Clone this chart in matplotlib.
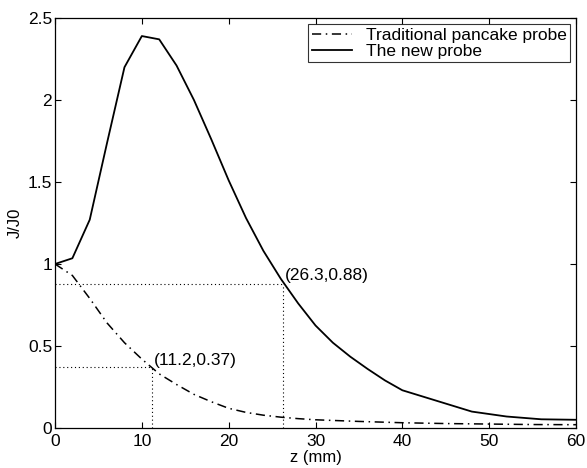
import numpy as np
import matplotlib.pyplot as plt

plt.rcParams['font.family'] = ['Liberation Sans', 'DejaVu Sans']

# depth z (mm) and normalised eddy current density J/J0
z_trad = [0, 2, 4, 6, 8, 10, 12, 14, 16, 18, 20, 22, 24, 26, 28, 30,
          35, 40, 45, 50, 55, 60]
j_trad = [1.0, 0.93, 0.79, 0.64, 0.52, 0.42, 0.33, 0.265, 0.205, 0.16, 0.12,
          0.095, 0.078, 0.066, 0.057, 0.05, 0.04, 0.032, 0.027, 0.024, 0.021, 0.02]

z_new = [0, 2, 4, 6, 8, 10, 12, 14, 16, 18, 20, 22, 24, 26, 28, 30, 32, 34,
         36, 38, 40, 44, 48, 52, 56, 60]
j_new = [1.0, 1.035, 1.27, 1.74, 2.20, 2.39, 2.37, 2.21, 2.0, 1.76, 1.51, 1.28,
         1.08, 0.91, 0.76, 0.625, 0.52, 0.435, 0.36, 0.29, 0.23, 0.165, 0.10,
         0.07, 0.053, 0.05]

marks = [(26.3, 0.88), (11.2, 0.37)]
mark_labels = ['(26.3,0.88)', '(11.2,0.37)']
label_pos = [(26.5, 0.93), (11.4, 0.41)]

fig = plt.figure(figsize=(5.87, 4.68), dpi=100)
ax = fig.add_axes([0.0937, 0.0855, 0.8876, 0.876])

ax.plot(z_trad, j_trad, color='black', lw=1.1, ls=(0, (6, 3, 1, 3)),
        label='Traditional pancake probe')
ax.plot(z_new, j_new, color='black', lw=1.3, label='The new probe')

for (mx, my), txt, (tx, ty) in zip(marks, mark_labels, label_pos):
    ax.plot([0, mx], [my, my], color='black', lw=0.8, ls=(0, (1, 2.5)))
    ax.plot([mx, mx], [0, my], color='black', lw=0.8, ls=(0, (1, 2.5)))
    ax.text(tx, ty, txt, fontsize=12.5, va='center', ha='left')

ax.set_xlim(0, 60)
ax.set_ylim(0, 2.5)
ax.set_xticks(np.arange(0, 61, 10))
ax.set_yticks([0, 0.5, 1, 1.5, 2, 2.5])
ax.set_yticklabels(['0', '0.5', '1', '1.5', '2', '2.5'])
ax.tick_params(direction='in', top=True, right=True, labelsize=12.5,
               length=4, width=0.8)
ax.tick_params(axis='x', pad=4)
ax.tick_params(axis='y', pad=2)
for s in ax.spines.values():
    s.set_linewidth(0.9)

ax.set_xlabel('z (mm)', fontsize=12, labelpad=1)
ax.set_ylabel('J/J0', fontsize=12, labelpad=4)

leg = ax.legend(loc='upper right', fontsize=12.5, frameon=True, fancybox=False,
                edgecolor='black', borderpad=0.2, labelspacing=0.05,
                handlelength=2.3, handletextpad=0.8, borderaxespad=0.35)
leg.get_frame().set_linewidth(0.8)

fig.savefig('out.png', dpi=100)
